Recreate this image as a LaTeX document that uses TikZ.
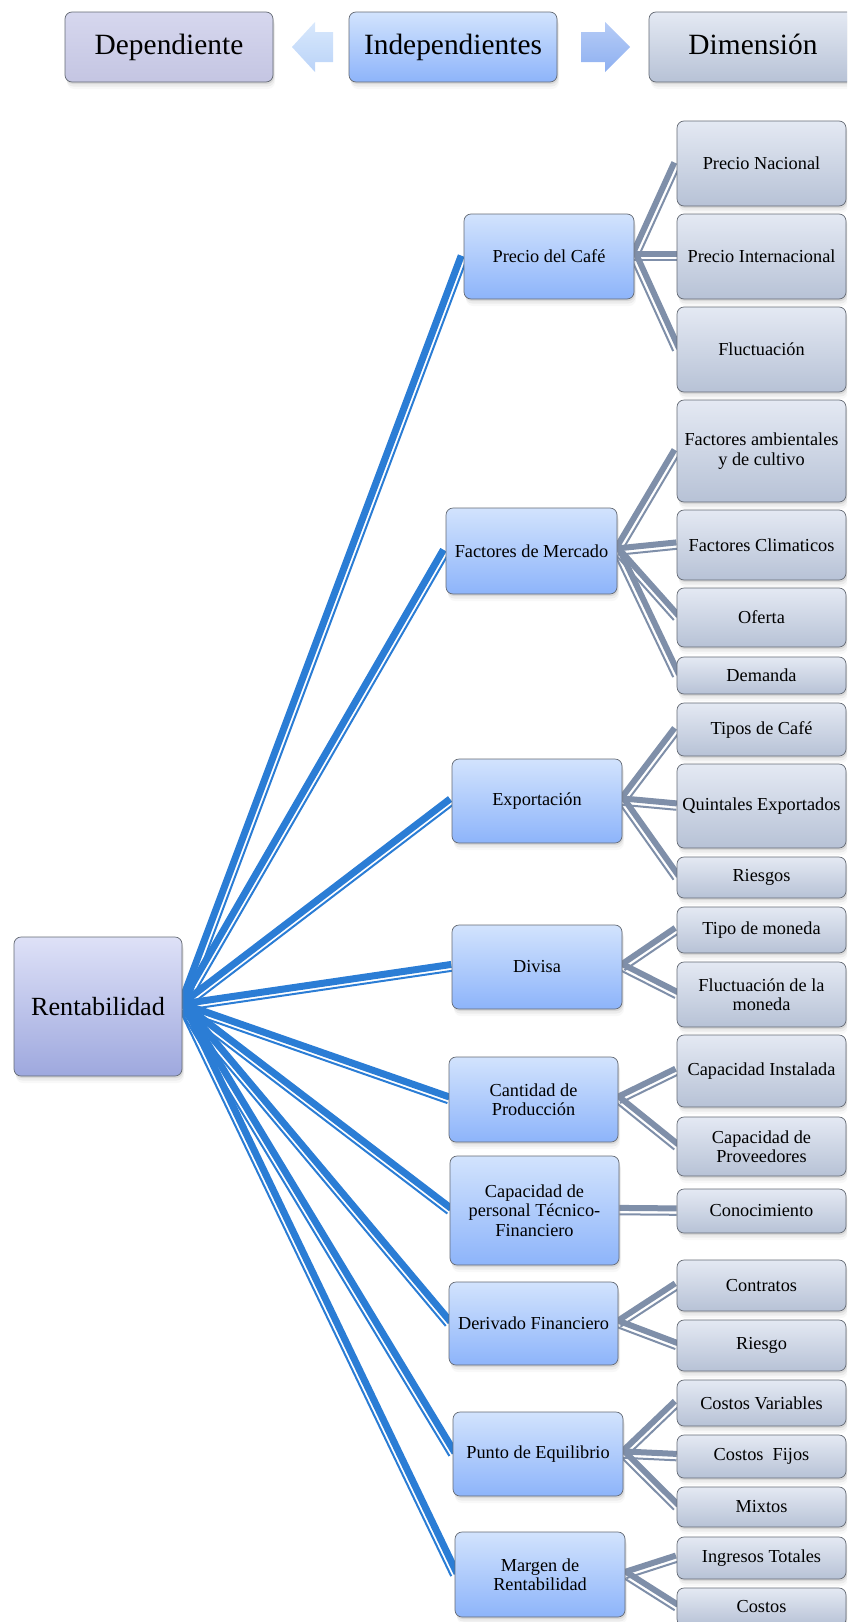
\documentclass[tikz,border=0pt]{standalone}
\usepackage{fontspec}
\setmainfont{Liberation Serif}
\usetikzlibrary{calc,shadows}
\definecolor{bluelink}{RGB}{43,125,213}
\definecolor{graylink}{RGB}{127,143,169}
\definecolor{edgecol}{RGB}{100,106,116}
\definecolor{midtop}{RGB}{210,227,253}
\definecolor{midbot}{RGB}{141,180,250}
\definecolor{dimtop}{RGB}{228,233,243}
\definecolor{dimbot}{RGB}{183,194,214}
\definecolor{rentop}{RGB}{222,225,247}
\definecolor{renbot}{RGB}{158,168,222}
\definecolor{deptop}{RGB}{214,215,238}
\definecolor{depbot}{RGB}{196,197,226}
\definecolor{arrLtop}{RGB}{216,232,252}
\definecolor{arrLbot}{RGB}{186,211,248}
\definecolor{arrRtop}{RGB}{182,204,246}
\definecolor{arrRbot}{RGB}{142,176,241}
\pgfdeclarelayer{bg}
\pgfsetlayers{bg,main}
\tikzset{
  box/.style={draw=edgecol, line width=0.7pt, rounded corners=7pt, align=center,
    inner sep=1pt, font=\fontsize{18.3}{19.5}\selectfont,
    drop shadow={shadow xshift=1pt,shadow yshift=-2pt,opacity=0.18},
    drop shadow={shadow xshift=1.5pt,shadow yshift=-4.5pt,opacity=0.10},
    drop shadow={shadow xshift=2pt,shadow yshift=-7pt,opacity=0.06}},
  midbox/.style={box, top color=midtop, bottom color=midbot, minimum width=170pt},
  dimbox/.style={box, top color=dimtop, bottom color=dimbot, minimum width=169pt},
  renbox/.style={box, top color=rentop, bottom color=renbot},
  depbox/.style={box, top color=deptop, bottom color=depbot},
  headtext/.style={font=\fontsize{29.4}{31}\selectfont, minimum width=208pt,
    minimum height=70pt, text height=20pt, text depth=6pt},
}
% #1 thick width, #2 colour, #3 from, #4 to
\newcommand\linkit[4]{%
  \draw[line width=#1, #2] ($(#3)!2.6pt!90:(#4)$) -- ($(#4)!2.6pt!-90:(#3)$);
  \draw[line width=2pt, #2] ($(#3)!3.8pt!-90:(#4)$) -- ($(#4)!3.8pt!90:(#3)$);}
\begin{document}
\begin{tikzpicture}[x=1pt,y=-1pt]
\path[use as bounding box] (0,0) rectangle (847,1622);
\clip (0,0) rectangle (847,1622);

% header
\node[depbox, headtext] (dep) at (169,47) {Dependiente};
\node[midbox, headtext] (ind) at (453,47) {Independientes};
\node[dimbox, headtext] (dim) at (753,47) {Dimensión};
\shade[top color=arrLtop, bottom color=arrLbot]
  (292,47) -- (315,22) -- (315,32) -- (333,32) -- (333,62) -- (315,62) -- (315,72) -- cycle;
\shade[top color=arrRtop, bottom color=arrRbot]
  (630,47) -- (605,22) -- (605,32) -- (581,32) -- (581,62) -- (605,62) -- (605,72) -- cycle;

% root
\node[renbox, font=\fontsize{26.2}{28}\selectfont, minimum width=168pt, minimum height=139pt] (ren) at (98,1006.5) {Rentabilidad};

% middle column
\node[midbox, minimum height=85pt] (n1) at (549,256.5) {Precio del Café};
\node[midbox, minimum height=86pt, minimum width=171pt] (n2) at (531.5,551) {Factores de Mercado};
\node[midbox, minimum height=84pt] (n3) at (537,801) {Exportación};
\node[midbox, minimum height=84pt] (n4) at (537,967) {Divisa};
\node[midbox, minimum height=85pt, minimum width=169pt] (n5) at (533.5,1099.5) {Cantidad de\\Producción};
\node[midbox, minimum height=109pt, minimum width=169pt] (n6) at (534.5,1210.5) {Capacidad de\\personal Técnico-\\Financiero};
\node[midbox, minimum height=83pt, minimum width=169pt] (n7) at (533.5,1323.5) {Derivado Financiero};
\node[midbox, minimum height=84pt] (n8) at (538,1454) {Punto de Equilibrio};
\node[midbox, minimum height=85pt] (n9) at (540,1574.5) {Margen de\\Rentabilidad};

% right column
\node[dimbox, minimum height=85pt] (r1) at (761.5,163.5) {Precio Nacional};
\node[dimbox, minimum height=85pt] (r2) at (761.5,256.5) {Precio Internacional};
\node[dimbox, minimum height=85pt] (r3) at (761.5,349.5) {Fluctuación};
\node[dimbox, minimum height=102pt] (r4) at (761.5,451) {Factores ambientales\\y de cultivo};
\node[dimbox, minimum height=70pt] (r5) at (761.5,545) {Factores Climaticos};
\node[dimbox, minimum height=59pt] (r6) at (761.5,617.5) {Oferta};
\node[dimbox, minimum height=37pt] (r7) at (761.5,675.5) {Demanda};
\node[dimbox, minimum height=53pt] (r8) at (761.5,729.5) {Tipos de Café};
\node[dimbox, minimum height=84pt] (r9) at (761.5,806) {Quintales Exportados};
\node[dimbox, minimum height=41pt] (r10) at (761.5,877.5) {Riesgos};
\node[dimbox, minimum height=46pt] (r11) at (761.5,930) {Tipo de moneda};
\node[dimbox, minimum height=65pt] (r12) at (761.5,994.5) {Fluctuación de la\\moneda};
\node[dimbox, minimum height=72pt] (r13) at (761.5,1071) {Capacidad Instalada};
\node[dimbox, minimum height=59pt] (r14) at (761.5,1146.5) {Capacidad de\\Proveedores};
\node[dimbox, minimum height=44pt] (r15) at (761.5,1211) {Conocimiento};
\node[dimbox, minimum height=51pt] (r16) at (761.5,1285.5) {Contratos};
\node[dimbox, minimum height=51pt] (r17) at (761.5,1345.5) {Riesgo};
\node[dimbox, minimum height=46pt] (r18) at (761.5,1403) {Costos Variables};
\node[dimbox, minimum height=43pt] (r19) at (761.5,1456.5) {Costos\ \ Fijos};
\node[dimbox, minimum height=40pt] (r20) at (761.5,1507) {Mixtos};
\node[dimbox, minimum height=42pt] (r21) at (761.5,1558) {Ingresos Totales};
\node[dimbox, minimum height=38pt] (r22) at (761.5,1607) {Costos};

\begin{pgfonlayer}{bg}
\foreach \m in {n1,n2,n3,n4,n5,n6,n7,n8,n9}{\linkit{7pt}{bluelink}{ren.east}{\m.west}}
\foreach \p/\c in {n1/r1,n1/r2,n1/r3,n2/r4,n2/r5,n2/r6,n2/r7,n3/r8,n3/r9,n3/r10,
  n4/r11,n4/r12,n5/r13,n5/r14,n6/r15,n7/r16,n7/r17,n8/r18,n8/r19,n8/r20,n9/r21,n9/r22}
  {\linkit{6pt}{graylink}{\p.east}{\c.west}}
\end{pgfonlayer}
\end{tikzpicture}
\end{document}
